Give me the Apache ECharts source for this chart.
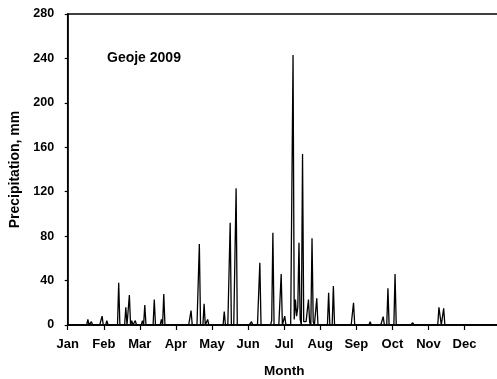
<!DOCTYPE html>
<html>
<head>
<meta charset="utf-8">
<script src="https://cdn.jsdelivr.net/npm/echarts@6/dist/echarts.min.js"></script>
<style>
  html, body { margin: 0; padding: 0; background: #fff; }
  #chart { width: 497px; height: 379px; }
</style>
</head>
<body>
<div id="chart"></div>
<script>
// Month tick labels (equal-width months across the year)
const months = ['Jan', 'Feb', 'Mar', 'Apr', 'May', 'Jun', 'Jul', 'Aug', 'Sep', 'Oct', 'Nov', 'Dec'];

// Days of the year with measurable rain, and the daily total (mm)
const wetDays = [17, 20, 29, 33, 43, 49, 52, 54, 57, 63, 65, 73, 79, 81,
  104, 111, 115, 118, 132, 137, 142, 155, 162, 172, 173, 180, 183,
  190, 191, 192, 193, 194, 195, 196, 198, 199, 200, 201, 202, 203, 204,
  206, 207, 210, 220, 224, 234, 241, 251, 255, 266, 270, 276, 291,
  313, 314, 317];
const rainMm = [5, 3, 8, 4, 38, 16, 27, 4, 4, 4, 18, 23, 5, 28,
  13, 73, 19, 5, 12, 92, 123, 3, 56, 4, 83, 46, 8,
  243, 5, 23, 8, 16, 74, 5, 154, 3, 3, 3, 3, 23, 2,
  78, 3, 24, 29, 35, 1.5, 20, 1.5, 3, 7.5, 33, 46, 2,
  16, 16, 15];

const yearDays = 365;

// Daily series: dry days are 0 mm
const rainByDay = new Map(wetDays.map((d, i) => [d, rainMm[i]]));
const daily = [];
for (let d = 0; d <= yearDays; d++) {
  daily.push([d, rainByDay.has(d) ? rainByDay.get(d) : 0]);
}

const monthLen = yearDays / 12;
const font = '"Liberation Sans", Arial, sans-serif';

const chart = echarts.init(document.getElementById('chart'));
chart.setOption({
  animation: false,
  backgroundColor: '#fff',
  title: {
    text: 'Geoje 2009',
    left: 107,
    top: 51,
    padding: 0,
    textStyle: { fontFamily: font, fontWeight: 'bold', fontSize: 14, color: '#000' }
  },
  grid: {
    left: 67.7,
    right: -3.6,
    top: 14,
    bottom: 54,
    outerBoundsMode: 'none',
    containLabel: false,
    show: true,
    borderColor: '#000',
    borderWidth: 1.5,
    backgroundColor: 'transparent'
  },
  xAxis: {
    type: 'value',
    min: 0,
    max: yearDays,
    interval: monthLen,
    name: 'Month',
    nameLocation: 'middle',
    nameGap: 39,
    nameTextStyle: { fontFamily: font, fontWeight: 'bold', fontSize: 13.5, color: '#000' },
    axisLine: { show: true, lineStyle: { color: '#000', width: 1.5 } },
    axisTick: { show: true, inside: false, length: 5, lineStyle: { color: '#000', width: 1.2 } },
    axisLabel: {
      margin: 13,
      fontFamily: font, fontWeight: 'bold', fontSize: 13, color: '#000',
      formatter: v => {
        const i = Math.round(v / monthLen);
        return i < 12 ? months[i] : '';
      }
    },
    splitLine: { show: false }
  },
  yAxis: {
    type: 'value',
    min: 0,
    max: 280,
    interval: 40,
    name: 'Precipitation, mm',
    nameLocation: 'middle',
    nameGap: 44,
    nameTextStyle: { fontFamily: font, fontWeight: 'bold', fontSize: 14, color: '#000' },
    axisLine: { show: true, lineStyle: { color: '#000', width: 1.5 } },
    axisTick: { show: true, inside: false, length: 3, lineStyle: { color: '#000', width: 1.2 } },
    axisLabel: { margin: 13.5, fontFamily: font, fontWeight: 'bold', fontSize: 12.5, color: '#000' },
    splitLine: { show: false }
  },
  series: [{
    type: 'line',
    data: daily,
    showSymbol: false,
    symbol: 'none',
    lineStyle: { color: '#000', width: 1.3 },
    clip: true
  }]
});
</script>
</body>
</html>
